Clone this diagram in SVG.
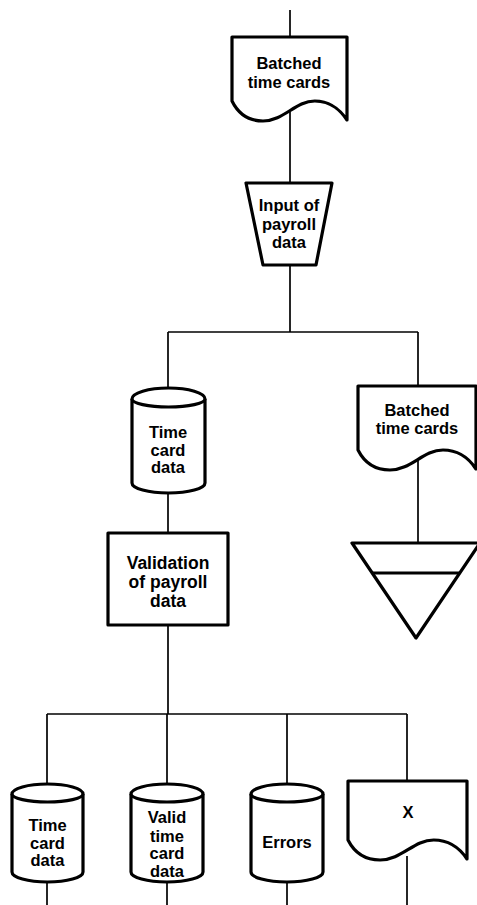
<svg xmlns="http://www.w3.org/2000/svg" width="477" height="905" viewBox="0 0 477 905">
  <style>
    .shape { fill: #fff; stroke: #000; stroke-width: 3.2; stroke-linejoin: round; }
    .wire { fill: none; stroke: #000; stroke-width: 1.7; }
    .lbl { font-family: "Liberation Sans", Arial, sans-serif; font-weight: bold; font-size: 16.5px; text-anchor: middle; fill: #000; }
    .wide { font-size: 17.5px; }
  </style>
  <rect width="477" height="905" fill="#fff"/>

  <!-- flow lines -->
  <g id="connectors">
    <path class="wire" d="M290 10 V38"/>
    <path class="wire" d="M290 112 V184"/>
    <path class="wire" d="M290 264 V332"/>
    <path class="wire" d="M168 332 H418"/>
    <path class="wire" d="M168 332 V389"/>
    <path class="wire" d="M418 332 V387"/>
    <path class="wire" d="M168 492 V534"/>
    <path class="wire" d="M418 460 V544"/>
    <path class="wire" d="M168 624 V714"/>
    <path class="wire" d="M47 714 H407"/>
    <path class="wire" d="M47 714 V785"/>
    <path class="wire" d="M167 714 V785"/>
    <path class="wire" d="M287 714 V785"/>
    <path class="wire" d="M407 714 V782"/>
    <path class="wire" d="M47 881 V905"/>
    <path class="wire" d="M167 881 V905"/>
    <path class="wire" d="M287 881 V905"/>
    <path class="wire" d="M407 856 V905"/>
  </g>

  <!-- document: batched time cards (input) -->
  <g id="doc-batched-in">
    <path class="shape" d="M232 37 H347 V120 C341.2 111.5 332.2 101 314.8 101 C295.3 101 283.8 121 263 121 C249.2 121 238.9 115 232 101 Z"/>
    <text class="lbl" x="289" y="69">Batched</text>
    <text class="lbl" x="289" y="88">time cards</text>
  </g>

  <!-- manual operation: input of payroll data -->
  <g id="input-payroll">
    <path class="shape" d="M246 183 H332 L316 265 H263 Z"/>
    <text class="lbl" x="289" y="211">Input of</text>
    <text class="lbl" x="289" y="230">payroll</text>
    <text class="lbl" x="289" y="248">data</text>
  </g>

  <!-- disk: time card data -->
  <g id="disk-timecard">
    <path class="shape" d="M132 399 A36.5 11 0 0 1 205 399 V483 A36.5 10 0 0 1 132 483 Z"/>
    <path class="shape" d="M205 399 A36.5 8 0 0 1 132 399" fill="none"/>
    <text class="lbl" x="168" y="438">Time</text>
    <text class="lbl" x="168" y="456">card</text>
    <text class="lbl" x="168" y="473">data</text>
  </g>

  <!-- document: batched time cards (to file) -->
  <g id="doc-batched-out">
    <path class="shape" d="M358 386 H476 V469 C470.1 460 460.8 450 443 450 C423 450 411.2 470 389.9 470 C375.7 470 365.1 464 358 450 Z"/>
    <text class="lbl" x="417" y="416">Batched</text>
    <text class="lbl" x="417" y="434">time cards</text>
  </g>

  <!-- offline storage -->
  <g id="offline-file">
    <path class="shape" d="M352 543 H480 L416 638 Z"/>
    <path class="shape" d="M372 573 H460"/>
  </g>

  <!-- process: validation -->
  <g id="validation">
    <rect class="shape" x="108" y="533" width="120" height="92"/>
    <text class="lbl wide" x="168" y="569">Validation</text>
    <text class="lbl wide" x="168" y="588">of payroll</text>
    <text class="lbl wide" x="168" y="607">data</text>
  </g>

  <!-- disk: time card data (output) -->
  <g id="disk-timecard-out">
    <path class="shape" d="M12 794 A35.5 10 0 0 1 83 794 V872 A35.5 10 0 0 1 12 872 Z"/>
    <path class="shape" d="M83 794 A35.5 8 0 0 1 12 794" fill="none"/>
    <text class="lbl" x="47.5" y="831">Time</text>
    <text class="lbl" x="47.5" y="849">card</text>
    <text class="lbl" x="47.5" y="866">data</text>
  </g>

  <!-- disk: valid time card data -->
  <g id="disk-valid">
    <path class="shape" d="M131 794 A36 10 0 0 1 203 794 V872 A36 10 0 0 1 131 872 Z"/>
    <path class="shape" d="M203 794 A36 8 0 0 1 131 794" fill="none"/>
    <text class="lbl" x="167" y="823">Valid</text>
    <text class="lbl" x="167" y="842">time</text>
    <text class="lbl" x="167" y="859">card</text>
    <text class="lbl" x="167" y="877">data</text>
  </g>

  <!-- disk: errors -->
  <g id="disk-errors">
    <path class="shape" d="M251 794 A36 10 0 0 1 323 794 V872 A36 10 0 0 1 251 872 Z"/>
    <path class="shape" d="M323 794 A36 8 0 0 1 251 794" fill="none"/>
    <text class="lbl" x="287" y="848">Errors</text>
  </g>

  <!-- document: X -->
  <g id="doc-x">
    <path class="shape" d="M348 781 H467 V859 C461 850 451.3 840 433.7 840 C413.6 840 401.7 860 380.1 860 C365.8 860 355.1 854 348 840 Z"/>
    <text class="lbl" x="408" y="818">X</text>
  </g>
</svg>
